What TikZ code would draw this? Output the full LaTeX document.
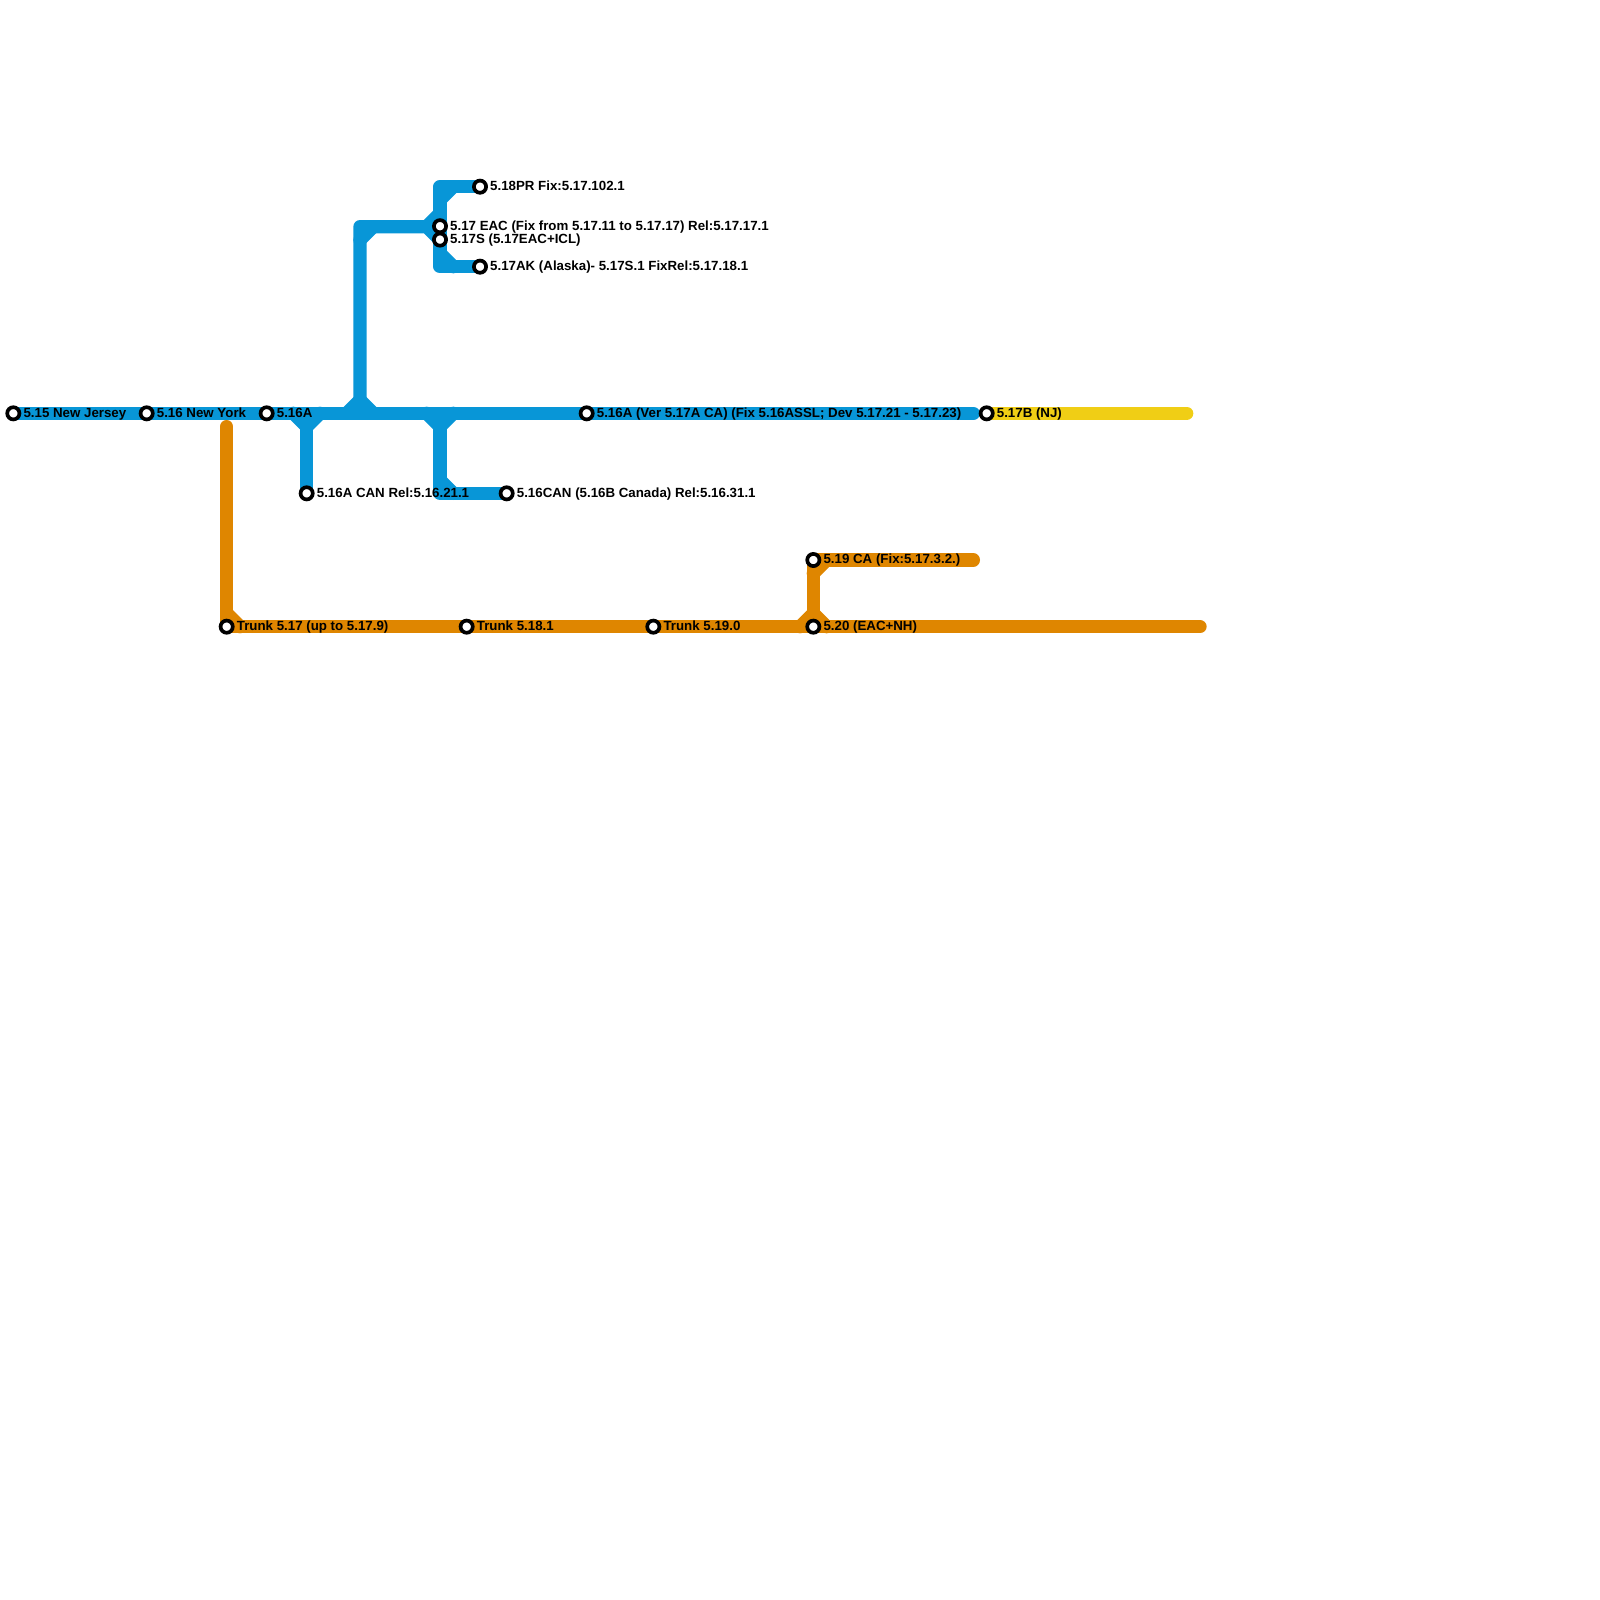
\documentclass[tikz,border=0pt]{standalone}
\usepackage{fontspec}
\setmainfont{Liberation Sans}
\usetikzlibrary{calc,backgrounds}
\definecolor{mblue}{HTML}{0896D7}
\definecolor{morange}{HTML}{DF8600}
\definecolor{myellow}{HTML}{F0CE15}
\tikzset{
  stn/.style={circle,draw=black,fill=white,line width=3.7pt,minimum size=12.2pt,inner sep=0pt,outer sep=0pt},
  lbl/.style={anchor=base west,inner sep=0pt,font=\fontsize{13.3}{13.3}\selectfont\bfseries,text=black},
  mline/.style={line width=13.33pt,line cap=round,line join=round},
  bl/.style={mline,draw=mblue},
  ol/.style={mline,draw=morange},
  yl/.style={mline,draw=myellow}
}
\newcommand{\stlabel}[3]{\node[lbl] (#2) at ($(#1)+(10,3.85)$) {#3};}
\begin{document}
\begin{tikzpicture}[x=1pt,y=-1pt]
\useasboundingbox (0,0) rectangle (1600,1600);
% stations
\node[stn] (a) at (13.33,413.33) {};
\node[stn] (b) at (146.67,413.33) {};
\node[stn] (c) at (266.67,413.33) {};
\node[stn] (d) at (586.67,413.33) {};
\node[stn] (e) at (986.67,413.33) {};
\node[stn] (f) at (306.67,493.33) {};
\node[stn] (g) at (506.67,493.33) {};
\node[stn] (h) at (480,186.67) {};
\node[stn] (i) at (440,226.2) {};
\node[stn] (j) at (440,239.6) {};
\node[stn] (k) at (480,266.67) {};
\node[stn] (m) at (226.67,626.67) {};
\node[stn] (n) at (466.67,626.67) {};
\node[stn] (o) at (653.33,626.67) {};
\node[stn] (p) at (813.33,626.67) {};
\node[stn] (q) at (813.33,560) {};
% free ends and bends
\coordinate (bEnd) at (973.33,413.33);
\coordinate (yend) at (1186.67,413.33);
\coordinate (tTop) at (226.67,426.67);
\coordinate (tEnd) at (1200,626.67);
\coordinate (qEnd) at (973.33,560);
\coordinate (u1) at (360,226.67);
\coordinate (u2) at (360,240);
\coordinate (u3) at (373.33,226.67);
\coordinate (u4) at (426.67,226.67);
\coordinate (v0) at (440,213.33);
\coordinate (v1) at (440,240);
\coordinate (t1) at (440,186.67);
\coordinate (t2) at (440,200);
\coordinate (t3) at (453.33,186.67);
\coordinate (b1) at (440,266.67);
\coordinate (b2) at (440,253.33);
\coordinate (b3) at (453.33,266.67);
\coordinate (m1) at (346.67,413.33);
\coordinate (m2) at (360,400);
\coordinate (m3) at (373.33,413.33);
\coordinate (m0) at (360,413.33);
\coordinate (f1) at (293.33,413.33);
\coordinate (f2) at (306.67,426.67);
\coordinate (f3) at (320,413.33);
\coordinate (g1) at (426.67,413.33);
\coordinate (g2) at (440,426.67);
\coordinate (g3) at (453.33,413.33);
\coordinate (g4) at (440,493.33);
\coordinate (g5) at (440,480);
\coordinate (g6) at (453.33,493.33);
\coordinate (r1) at (226.67,613.33);
\coordinate (r2) at (240,626.67);
\coordinate (s1) at (800,626.67);
\coordinate (s2) at (813.33,613.33);
\coordinate (s3) at (826.67,626.67);
\coordinate (s4) at (813.33,573.33);
\coordinate (s5) at (826.67,560);
% lines
\begin{scope}[on background layer]
\draw[yl] (e.center) -- (yend);
\draw[bl] (a.center) -- (bEnd);
\draw[bl] (m0) -- (u1) -- (u4) -- (v1);
\draw[bl] (u2) -- (u3);
\draw[bl] (u4) -- (v0);
\draw[bl] (m1) -- (m2) -- (m3);
\draw[bl] (h.center) -- (t1) -- (b1) -- (k.center);
\draw[bl] (t2) -- (t3);
\draw[bl] (b2) -- (b3);
\draw[bl] (f1) -- (f2) -- (f3);
\draw[bl] (f2) -- (f.center);
\draw[bl] (g1) -- (g2) -- (g3);
\draw[bl] (g2) -- (g4) -- (g.center);
\draw[bl] (g5) -- (g6);
\draw[ol] (tTop) -- (m.center) -- (tEnd);
\draw[ol] (r1) -- (r2);
\draw[ol] (s1) -- (s2) -- (s3);
\draw[ol] (p.center) -- (q.center) -- (qEnd);
\draw[ol] (s4) -- (s5);
\end{scope}
% labels
\stlabel{a}{la}{5.15 New Jersey}
\stlabel{b}{lb}{5.16 New York}
\stlabel{c}{lc}{5.16A}
\stlabel{d}{ld}{5.16A (Ver 5.17A CA) (Fix 5.16ASSL; Dev 5.17.21 - 5.17.23)}
\stlabel{e}{le}{5.17B (NJ)}
\stlabel{f}{lf}{5.16A CAN Rel:5.16.21.1}
\stlabel{g}{lg}{5.16CAN (5.16B Canada) Rel:5.16.31.1}
\stlabel{h}{lh}{5.18PR Fix:5.17.102.1}
\stlabel{i}{li}{5.17 EAC (Fix from 5.17.11 to 5.17.17) Rel:5.17.17.1}
\stlabel{j}{lj}{5.17S (5.17EAC+ICL)}
\stlabel{k}{lk}{5.17AK (Alaska)- 5.17S.1 FixRel:5.17.18.1}
\stlabel{m}{lm}{Trunk 5.17 (up to 5.17.9)}
\stlabel{n}{ln}{Trunk 5.18.1}
\stlabel{o}{lo}{Trunk 5.19.0}
\stlabel{p}{lp}{5.20 (EAC+NH)}
\stlabel{q}{lq}{5.19 CA (Fix:5.17.3.2.)}
\end{tikzpicture}
\end{document}
